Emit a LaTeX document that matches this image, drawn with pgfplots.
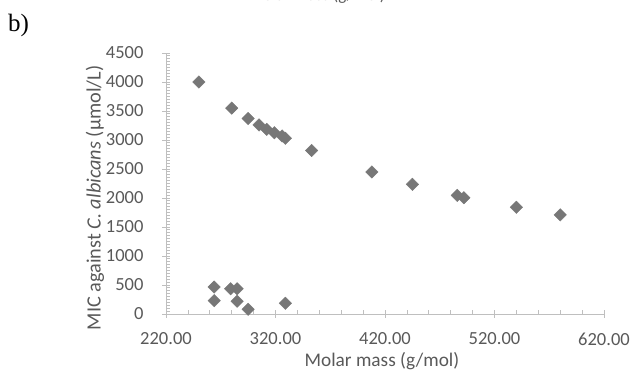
\documentclass[border=0pt]{standalone}
\usepackage{pgfplots}
\pgfplotsset{compat=1.18}
\usepackage{fontspec}
\setmainfont{Carlito}
\newfontfamily\seriffont{Liberation Serif}
\definecolor{labgray}{HTML}{595959}
\definecolor{axgray}{HTML}{BFBFBF}
\definecolor{mkgray}{HTML}{777777}
\begin{document}
\begin{tikzpicture}[x=1pt,y=1pt]
\clip (0,0) rectangle (634,382);
\node[text=labgray, font=\fontsize{17}{20}\selectfont, anchor=base] at (317,381) {Molar mass (g/mol)};
\node[font=\seriffont\fontsize{25}{30}\selectfont, anchor=base west, inner sep=0pt] at (8,350) {b)};
\begin{axis}[
  at={(166pt,68pt)}, anchor=south west,
  scale only axis, width=438pt, height=261pt,
  xmin=220, xmax=620, ymin=0, ymax=4500,
  axis x line=bottom, axis y line=left,
  axis line style={draw=axgray, line width=0.9pt, -},
  xtick={220,320,...,620}, ytick={0,500,...,4500},
  minor x tick num=4, minor y tick num=9,
  tick align=center, major tick length=8pt, minor tick length=4pt,
  every tick/.style={draw=axgray, line width=0.8pt},
  every minor x tick/.append style={yshift=2pt},
  every minor y tick/.append style={xshift=2pt},
  /pgf/number format/assume math mode=true,
  xticklabel style={/pgf/number format/.cd, fixed, fixed zerofill, precision=2, /tikz/.cd, yshift=-11pt},
  yticklabel style={/pgf/number format/1000 sep={}, xshift=-15pt},
  ticklabel style={text=labgray, font=\fontsize{18.5}{22}\selectfont},
  xlabel={Molar mass (g/mol)},
  label style={text=labgray, font=\fontsize{19.3}{22}\selectfont},
  xlabel style={at={(axis description cs:0.493,0)}, anchor=base, yshift=-53pt},
  clip=false,
]
\addplot[only marks, mark=square*, mark size=4.4pt, mark options={rotate=45, fill=mkgray, draw=mkgray}] coordinates {
(250,4000)(280,3550)(295,3370)(305,3260)(312,3185)(319,3125)(326,3070)(329,3030)
(353,2820)(408,2450)(445,2235)(486,2045)(492,2005)(540,1840)(580,1710)
(264,465)(264,230)(279,435)(285,435)(285,220)(295,80)(329,185)
};
\end{axis}
\node[rotate=90, anchor=center, inner sep=0pt, text=labgray, font=\fontsize{20.3}{23}\selectfont] at (95,184) {MIC against \textit{C. albicans} (µmol/L)};
\end{tikzpicture}
\end{document}
